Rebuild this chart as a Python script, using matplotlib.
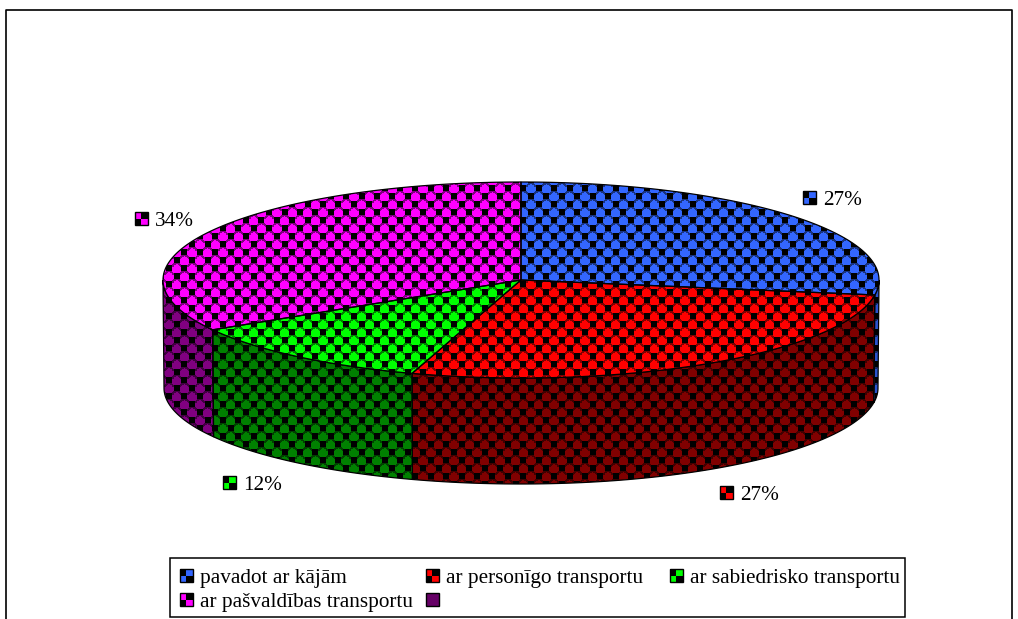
import matplotlib
matplotlib.use("Agg")
import matplotlib.pyplot as plt
import numpy as np
from matplotlib.patches import Polygon, Rectangle

plt.rcParams["font.family"] = ["Liberation Serif", "DejaVu Serif"]

W, H = 1018, 619

categories = ["pavadot ar kājām", "ar personīgo transportu",
              "ar sabiedrisko transportu", "ar pašvaldības transportu", ""]
values = [27.45, 27.49, 11.6, 33.5]
colors = ["#3366ff", "#ff0000", "#00ff00", "#ff00ff"]
wall_colors = ["#2a52cc", "#800000", "#008000", "#800080"]
empty_color = "#660066"

# pie geometry in pixels
CX, CY, RX, RY = 521, 280, 358, 98
BOT_CY, BOT_RX, BOT_RY = 388, 357, 96

label_pos = [(803, 191), (720, 486), (223, 476), (135, 212)]
legend_pos = [(180, 569), (426, 569), (670, 569), (180, 593), (426, 593)]
KEY = 13
FONT = 15.3
TILE_X, TILE_Y = 15.4, 16


def make_texture(color):
    """Full-canvas RGB image of the dotted checker fill."""
    base = np.array(matplotlib.colors.to_rgb(color))
    yy, xx = np.mgrid[0:H, 0:W]
    # phase taken from a black square centred near (531, 196)
    u = (xx + 0.5 - 531) % TILE_X
    v = (yy + 0.5 - 196) % TILE_Y
    img = np.tile(base, (H, W, 1))
    # dark crescents on the upper side of each dot
    for cu, cv in [(TILE_X / 2, 0), (TILE_X / 2, TILE_Y), (0, TILE_Y / 2), (TILE_X, TILE_Y / 2)]:
        d = np.hypot(u - cu, v - cv)
        img[(d > 3.6) & (d < 5.6) & (v < cv - 0.5)] = base * 0.5
    # black squares on a staggered lattice
    half = 3.0
    for cu, cv in [(0, 0), (TILE_X, 0), (0, TILE_Y), (TILE_X, TILE_Y), (TILE_X / 2, TILE_Y / 2)]:
        img[(np.abs(u - cu) < half) & (np.abs(v - cv) < half)] = 0
    return img


def fill(ax, pts, color, z):
    patch = Polygon(pts, closed=True, facecolor="none", edgecolor="none", zorder=z)
    ax.add_patch(patch)
    im = ax.imshow(make_texture(color), extent=(0, W, H, 0),
                   interpolation="nearest", aspect="auto", zorder=z)
    im.set_clip_path(patch)
    ax.add_patch(Polygon(pts, closed=True, fill=False, edgecolor="black",
                         linewidth=0.9, zorder=z + 0.1))


def rim(theta, cx=CX, cy=CY, rx=RX, ry=RY):
    # theta clockwise from the top of the pie
    return np.column_stack([cx + rx * np.sin(theta), cy - ry * np.cos(theta)])


def key(ax, x, y, color, black=None):
    ax.add_patch(Rectangle((x, y), KEY, KEY, facecolor=color, edgecolor="none", zorder=5))
    q = KEY / 2
    if black == "diag":
        corners = [(x + q, y), (x, y + q)]
    elif black == "anti":
        corners = [(x, y), (x + q, y + q)]
    else:
        corners = []
    for cx, cy in corners:
        ax.add_patch(Rectangle((cx, cy), q, q, facecolor="black", edgecolor="none", zorder=5.5))
    ax.add_patch(Rectangle((x, y), KEY, KEY, fill=False, edgecolor="black", lw=1.0, zorder=6))


fig = plt.figure(figsize=(W / 100, H / 100), dpi=100)
ax = fig.add_axes([0, 0, 1, 1])

# outer frame, runs off the bottom of the picture
ax.plot([6.5, 6.5, 1012, 1012], [H + 2, 10, 10, H + 2], color="black", lw=1.2)

edges = np.radians(np.cumsum([0] + values) / sum(values) * 360)

# side walls, only the front half shows
for i in range(len(values)):
    a, b = max(edges[i], np.pi / 2), min(edges[i + 1], 3 * np.pi / 2)
    if a >= b:
        continue
    t = np.linspace(a, b, 80)
    pts = np.vstack([rim(t), rim(t[::-1], CX, BOT_CY, BOT_RX, BOT_RY)])
    fill(ax, pts, wall_colors[i], 2)

# top slices
for i in range(len(values)):
    t = np.linspace(edges[i], edges[i + 1], 120)
    fill(ax, np.vstack([[CX, CY], rim(t)]), colors[i], 3)

# percentage labels
for i, (v, c, (x, y)) in enumerate(zip(values, colors, label_pos)):
    key(ax, x, y, c, "diag" if i % 2 else "anti")
    ax.text(x + 20, y + 14, f"{v:.0f}%", fontsize=FONT, va="baseline", ha="left", color="black")

# legend box
ax.add_patch(Rectangle((170, 558), 735, 59, facecolor="white", edgecolor="black",
                       linewidth=1.1, zorder=4))
legend_colors = colors + [empty_color]
for j, (name, c, (x, y)) in enumerate(zip(categories, legend_colors, legend_pos)):
    style = None if j == 4 else ("diag" if j % 2 else "anti")
    key(ax, x, y, c, style)
    if name:
        ax.text(x + 20, y + 14, name, fontsize=FONT, va="baseline", ha="left",
                color="black", zorder=6)

ax.set_xlim(0, W)
ax.set_ylim(H, 0)
ax.axis("off")
fig.savefig("out.png", dpi=100)
